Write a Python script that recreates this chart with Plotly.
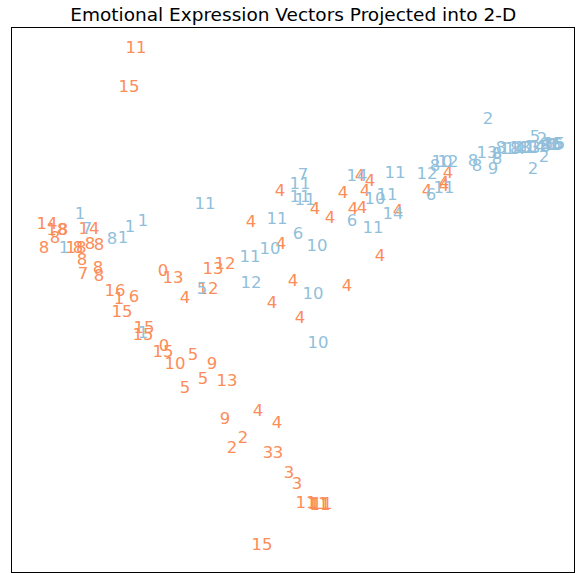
import plotly.graph_objects as go

# Orange group: labels and 2-D projected coordinates
orange_labels = ["11","15","14","18","8","8","8","14","18","8","8","8","8","7","8","8",
                 "16","1","6","15","15","15","0","15","10","5","9","5","13","5",
                 "0","13","4","13","12","12","4","4","4","4","4","4","4","4","4","4",
                 "4","4","4","4","4","4","4","4","4","4","4",
                 "9","4","4","2","2","3","3","3","3","11","11","11","11","15"]
orange_x = [124,117,35,45,51,43,32,77,64,66,78,87,70,71,86,87,
            103,107,122,110,132,131,152,151,163,181,200,191,215,173,
            151,161,173,201,213,196,281,260,288,335,269,239,268,331,303,318,
            348,358,353,341,350,386,368,436,432,415,432,
            213,246,265,231,220,256,266,277,285,294,306,308,310,250]
orange_y = [525,486,349,343,343,335,325,344,325,325,329,328,313,299,305,297,
            282,274,276,261,245,238,227,221,209,218,209,194,192,185,
            302,295,275,304,309,284,292,270,255,287,329,351,382,380,364,355,
            397,392,382,364,365,362,317,400,390,382,387,
            154,162,150,135,125,120,120,100,89,70,69,68,69,28]

# Blue group: labels and 2-D projected coordinates
blue_labels = ["1","7","1","8","1","1","1","1","5","11","11","10","12","10","10",
               "11","6","10","7","11","11","11","14","11","10","11","14","6","11",
               "12","8","10","12","6","11","2","8","8","13","8","8","9","2","2","5","2",
               "8","18","14","18","11","13","14","18","8","6","0","5","6","3","15","5"]
blue_x = [68,75,52,100,111,118,131,131,190,193,238,258,239,301,306,
          265,286,305,291,288,288,293,345,383,363,375,381,340,361,
          415,423,430,436,419,432,476,461,465,475,485,485,481,532,521,523,530,
          489,498,503,508,513,518,523,528,534,538,540,544,546,536,541,548]
blue_y = [359,344,325,334,335,346,352,240,284,369,316,324,290,279,230,
          354,339,327,398,389,376,373,397,400,374,378,359,352,345,
          399,407,411,411,378,385,454,412,407,420,419,414,404,416,404,436,434,
          425,424,424,425,425,425,426,426,427,428,428,428,428,429,429,429]

fig = go.Figure()
fig.add_trace(go.Scatter(
    x=orange_x, y=orange_y, text=orange_labels, mode="text",
    textposition="middle center",
    textfont=dict(family="DejaVu Sans", size=16.5, color="#fc8d59"),
    hoverinfo="skip", showlegend=False))
fig.add_trace(go.Scatter(
    x=blue_x, y=blue_y, text=blue_labels, mode="text",
    textposition="middle center",
    textfont=dict(family="DejaVu Sans", size=16.5, color="#91bfdb"),
    hoverinfo="skip", showlegend=False))

axis_common = dict(showgrid=False, zeroline=False, showticklabels=False, ticks="",
                   showline=True, mirror=True, linecolor="black", linewidth=1,
                   automargin=False, fixedrange=True)
fig.update_layout(
    width=576, height=573,
    margin=dict(l=12, r=2, t=28, b=1, autoexpand=False),
    paper_bgcolor="white", plot_bgcolor="white",
    title=dict(text="Emotional Expression Vectors Projected into 2-D",
               x=0.509, xanchor="center", y=1 - 15/573, yanchor="middle",
               yref="container", automargin=False,
               font=dict(family="DejaVu Sans", size=18.5, color="black")),
    xaxis=dict(range=[0, 562], **axis_common),
    yaxis=dict(range=[2, 546], **axis_common),
)
fig.write_html(
    "out.html",
    config={"displayModeBar": False},
    post_script="document.documentElement.style.margin='0';"
                "document.body.style.margin='0';"
                "document.body.style.overflow='hidden';",
)
